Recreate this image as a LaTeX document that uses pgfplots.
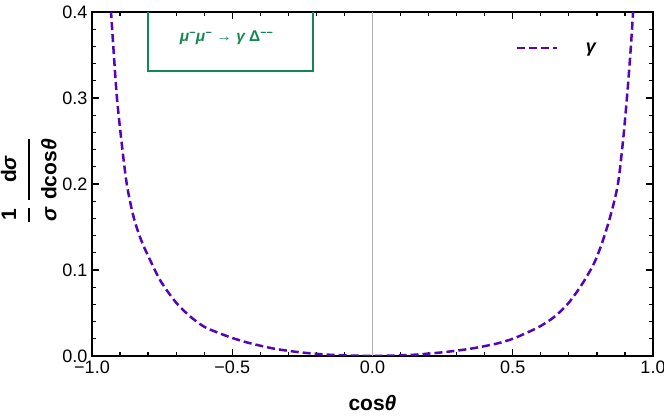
\documentclass[border=0pt]{standalone}
\usepackage{pgfplots}
\pgfplotsset{compat=1.18}
\usepackage{fontspec}
\setmainfont{Liberation Sans}
\definecolor{curve}{RGB}{85,5,185}
\definecolor{boxgreen}{RGB}{20,135,85}

\pgfplotstableread{
x y
-0.936 0.43
-0.932 0.40
-0.922 0.35
-0.911 0.30
-0.895 0.25
-0.876 0.20
-0.852 0.162
-0.825 0.135
-0.795 0.113
-0.755 0.087
-0.70 0.062
-0.65 0.046
-0.60 0.034
-0.55 0.027
-0.50 0.021
-0.45 0.016
-0.40 0.012
-0.35 0.0085
-0.30 0.0060
-0.25 0.0040
-0.20 0.0025
-0.15 0.0014
-0.10 0.0007
-0.05 0.0003
0.00 0.0002
0.05 0.0003
0.10 0.0008
0.15 0.0015
0.20 0.0028
0.25 0.0043
0.30 0.0062
0.35 0.0085
0.40 0.0115
0.45 0.015
0.50 0.020
0.55 0.027
0.60 0.035
0.65 0.046
0.70 0.062
0.75 0.085
0.79 0.108
0.82 0.133
0.85 0.165
0.875 0.20
0.893 0.25
0.907 0.30
0.919 0.35
0.929 0.40
0.933 0.43
}\curvedata

% bold fraction built from a one-column tabular with a thick rule
\newcommand{\bfrac}[2]{\begin{tabular}{@{}c@{}}#1\\\hline #2\end{tabular}}

\begin{document}
\begin{tikzpicture}
\begin{axis}[
    scale only axis,
    width=561pt, height=344pt,
    xmin=-1, xmax=1, ymin=0, ymax=0.4,
    xtick={-1,-0.5,0,0.5,1},
    xticklabels={−1.0,−0.5,0.0,0.5,1.0},
    ytick={0,0.1,0.2,0.3,0.4},
    yticklabels={0.0,0.1,0.2,0.3,0.4},
    minor x tick num=4,
    minor y tick num=4,
    tick align=inside,
    major tick length=7pt,
    minor tick length=4pt,
    every tick/.style={black, line width=1.2pt},
    axis line style={line width=2pt},
    xticklabel style={font=\fontsize{18}{21}\selectfont, yshift=-1pt},
    yticklabel style={font=\fontsize{18}{21}\selectfont, xshift=-1pt},
    xlabel={\bfseries cos\itshape θ},
    xlabel style={at={(axis description cs:0.5,0)}, yshift=-47pt, anchor=center,
        font=\fontsize{21}{24}\selectfont},
    ylabel={\setlength{\arrayrulewidth}{2pt}\renewcommand{\arraystretch}{1.6}%
        \bfrac{\bfseries 1}{\bfseries\itshape σ}\hspace{8pt}%
        \bfrac{\bfseries d\itshape σ}{\bfseries dcos\itshape θ}},
    ylabel style={at={(axis description cs:-0.113,0.51)}, anchor=center,
        font=\fontsize{21}{24}\selectfont},
    legend style={draw=none, fill=none, inner sep=0pt, at={(0.902,0.895)}, anchor=east,
        font=\fontsize{18}{21}\selectfont\bfseries\itshape},
    legend image code/.code={\draw[#1] (0pt,0pt) -- (40pt,0pt);},
]
\draw[gray!60, line width=0.6pt] (axis cs:0,0) -- (axis cs:0,0.4);
\draw[boxgreen, line width=2.2pt] (axis cs:-0.8,0.41) -- (axis cs:-0.8,0.331)
    -- (axis cs:-0.212,0.331) -- (axis cs:-0.212,0.41);
\node[boxgreen, font=\fontsize{15.5}{18}\selectfont\bfseries] at (axis cs:-0.52,0.370)
    {\itshape μ\textsuperscript{−}μ\textsuperscript{−} \upshape→ \itshape γ \upshape Δ\textsuperscript{−−}};
\addplot[curve, line width=2.5pt, dash pattern=on 8pt off 4pt, smooth] table {\curvedata};
\addlegendentry{\hspace{26pt}γ}
\end{axis}
\pgfresetboundingbox
\path (current axis.south west) ++(-92pt,-64pt) coordinate (bl);
\path (current axis.north east) ++(11pt,12pt) coordinate (tr);
\path[use as bounding box] (bl) rectangle (tr);
\end{tikzpicture}
\end{document}
